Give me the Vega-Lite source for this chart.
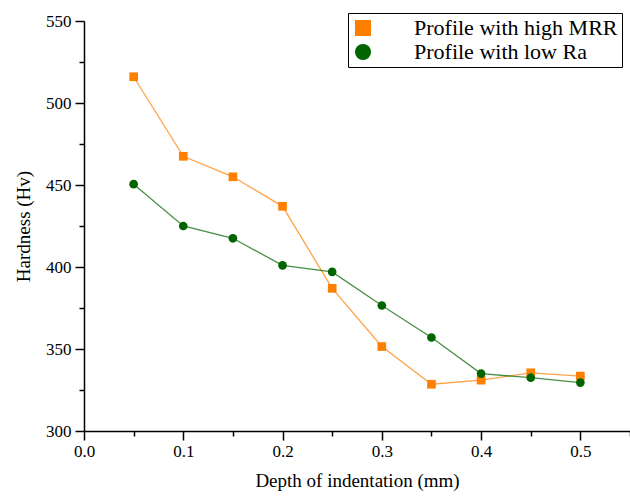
{
  "$schema": "https://vega.github.io/schema/vega-lite/v6.json",
  "width": 546,
  "height": 410,
  "autosize": "none",
  "padding": {"left": 84, "top": 21, "right": 0, "bottom": 67},
  "background": "white",
  "config": {"view": {"stroke": null}, "font": "Liberation Serif"},
  "resolve": {"legend": {"color": "independent", "shape": "independent"}},
  "data": {
    "values": [
      {"depth": 0.05, "hardness": 516, "series": "Profile with high MRR"},
      {"depth": 0.10, "hardness": 467.5, "series": "Profile with high MRR"},
      {"depth": 0.15, "hardness": 455, "series": "Profile with high MRR"},
      {"depth": 0.20, "hardness": 437, "series": "Profile with high MRR"},
      {"depth": 0.25, "hardness": 387, "series": "Profile with high MRR"},
      {"depth": 0.30, "hardness": 351.5, "series": "Profile with high MRR"},
      {"depth": 0.35, "hardness": 328.5, "series": "Profile with high MRR"},
      {"depth": 0.40, "hardness": 331, "series": "Profile with high MRR"},
      {"depth": 0.45, "hardness": 335.5, "series": "Profile with high MRR"},
      {"depth": 0.50, "hardness": 333.5, "series": "Profile with high MRR"},
      {"depth": 0.05, "hardness": 450.5, "series": "Profile with  low Ra"},
      {"depth": 0.10, "hardness": 425, "series": "Profile with  low Ra"},
      {"depth": 0.15, "hardness": 417.5, "series": "Profile with  low Ra"},
      {"depth": 0.20, "hardness": 401, "series": "Profile with  low Ra"},
      {"depth": 0.25, "hardness": 397, "series": "Profile with  low Ra"},
      {"depth": 0.30, "hardness": 376.5, "series": "Profile with  low Ra"},
      {"depth": 0.35, "hardness": 357, "series": "Profile with  low Ra"},
      {"depth": 0.40, "hardness": 335, "series": "Profile with  low Ra"},
      {"depth": 0.45, "hardness": 332.5, "series": "Profile with  low Ra"},
      {"depth": 0.50, "hardness": 329.5, "series": "Profile with  low Ra"}
    ]
  },
  "encoding": {
    "x": {
      "field": "depth", "type": "quantitative",
      "scale": {"domain": [0, 0.55], "nice": false, "zero": false},
      "axis": {
        "title": "Depth of indentation (mm)",
        "values": [0, 0.05, 0.1, 0.15, 0.2, 0.25, 0.3, 0.35, 0.4, 0.45, 0.5, 0.55],
        "labelExpr": "round(datum.value*100) % 10 == 0 ? format(datum.value, '.1f') : ''",
        "grid": false,
        "domainColor": "black", "domainWidth": 1.5,
        "tickColor": "black", "tickWidth": 1.5,
        "tickSize": {"condition": {"test": "round(datum.value*100) % 10 != 0", "value": 5}, "value": 9},
        "labelFont": "Liberation Serif", "labelFontSize": 17, "labelColor": "black", "labelPadding": 3,
        "labelFlush": false, "labelOverlap": false,
        "titleFont": "Liberation Serif", "titleFontSize": 19, "titleFontWeight": "normal", "titleColor": "black", "titlePadding": 12
      }
    },
    "y": {
      "field": "hardness", "type": "quantitative",
      "scale": {"domain": [300, 550], "nice": false, "zero": false},
      "axis": {
        "title": "Hardness (Hv)",
        "values": [300, 325, 350, 375, 400, 425, 450, 475, 500, 525, 550],
        "labelExpr": "datum.value % 50 == 0 ? datum.value : ''",
        "grid": false,
        "domainColor": "black", "domainWidth": 1.5,
        "tickColor": "black", "tickWidth": 1.5,
        "tickSize": {"condition": {"test": "datum.value % 50 != 0", "value": 5}, "value": 9},
        "labelFont": "Liberation Serif", "labelFontSize": 17, "labelColor": "black", "labelPadding": 4,
        "labelFlush": false, "labelOverlap": false,
        "titleFont": "Liberation Serif", "titleFontSize": 19, "titleFontWeight": "normal", "titleColor": "black", "titlePadding": 12
      }
    }
  },
  "layer": [
    {
      "mark": {"type": "line", "strokeWidth": 1.3, "opacity": 0.72},
      "encoding": {
        "color": {
          "field": "series", "type": "nominal",
          "scale": {"domain": ["Profile with high MRR", "Profile with  low Ra"], "range": ["#FF7F00", "#006400"]},
          "legend": null
        }
      }
    },
    {
      "mark": {"type": "point", "filled": true, "opacity": 1, "size": 75},
      "encoding": {
        "color": {
          "field": "series", "type": "nominal",
          "scale": {"domain": ["Profile with high MRR", "Profile with  low Ra"], "range": ["#FF7F00", "#006400"]},
          "legend": {
            "title": null,
            "orient": "none", "legendX": 264, "legendY": -8,
            "strokeColor": "black", "fillColor": "white", "padding": 4,
            "symbolSize": 256, "symbolStrokeWidth": 1.3,
            "labelFont": "Liberation Serif", "labelFontSize": 22, "labelColor": "black",
            "labelOffset": 40, "rowPadding": 2, "labelLimit": 400,
            "encode": {
              "symbols": {
                "shape": {"condition": {"test": "datum.value === 'Profile with high MRR'", "value": "M-1,0H5.25M1.625,-0.5H2.625V0.5H1.625Z"}, "value": "M-1,0H5.25M2.75,0A0.625,0.625,0,1,1,1.5,0A0.625,0.625,0,1,1,2.75,0Z"},
                "stroke": {"condition": {"test": "datum.value === 'Profile with high MRR'", "value": "#F08A30"}, "value": "#2A7A2A"},
                "fill": {"condition": {"test": "datum.value === 'Profile with high MRR'", "value": "#FF7F00"}, "value": "#006400"},
                "strokeWidth": {"value": 1.3},
                "opacity": {"value": 1}
              }
            }
          }
        },
        "shape": {
          "field": "series", "type": "nominal",
          "scale": {"domain": ["Profile with high MRR", "Profile with  low Ra"], "range": ["square", "circle"]},
          "legend": null
        }
      }
    }
  ]
}
